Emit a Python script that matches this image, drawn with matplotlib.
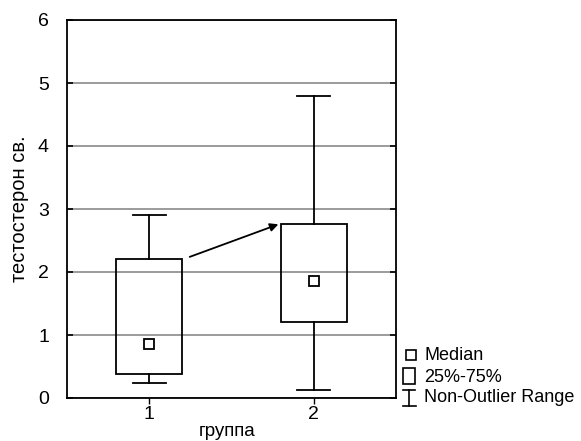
import numpy as np
import matplotlib
matplotlib.use('Agg')
import matplotlib.pyplot as plt
from matplotlib.patches import Rectangle
from matplotlib.lines import Line2D

plt.rcParams['font.family'] = ['Liberation Sans', 'DejaVu Sans']

# данные по группам
groups = [1, 2]
medians = [0.85, 1.86]
q25 = [0.385, 1.205]
q75 = [2.2, 2.757]
wlow = [0.24, 0.125]
whigh = [2.9, 4.8]
yticks = [0, 1, 2, 3, 4, 5, 6]

W, H = 581, 441
fig = plt.figure(figsize=(W / 100, H / 100), dpi=100)
ax = fig.add_axes([67 / W, 1 - 398 / H, 329 / W, 378 / H])

box_w = 0.4
cap_w = 0.2
for g, md, lo, hi, wl, wh in zip(groups, medians, q25, q75, wlow, whigh):
    ax.add_patch(Rectangle((g - box_w / 2, lo), box_w, hi - lo, fill=False,
                           ec='black', lw=1.3, zorder=3))
    ax.plot([g, g], [hi, wh], c='black', lw=1.3, zorder=3)
    ax.plot([g, g], [wl, lo], c='black', lw=1.3, zorder=3)
    ax.plot([g - cap_w / 2, g + cap_w / 2], [wh, wh], c='black', lw=1.3, zorder=3)
    ax.plot([g - cap_w / 2, g + cap_w / 2], [wl, wl], c='black', lw=1.3, zorder=3)
    ax.plot(g, md, marker='s', ms=7, mfc='white', mec='black', mew=1.3, zorder=4)

# стрелка от первой группы ко второй
ax.annotate('', xy=(1.785, q75[1]), xytext=(1.246, 2.24),
            arrowprops=dict(arrowstyle='-|>', color='black', lw=1.3,
                            mutation_scale=12, shrinkA=0, shrinkB=0))

ax.set_xlim(0.5, 2.5)
ax.set_ylim(0, 6)
ax.set_xticks(groups)
ax.set_yticks(yticks)
ax.grid(axis='y', color='#808080', lw=1.1, zorder=1)
ax.tick_params(axis='y', direction='in', length=4, width=1.2, right=True,
               labelsize=14, pad=13)
ax.tick_params(axis='x', direction='out', length=4, width=1, labelsize=14, pad=2)
for s in ax.spines.values():
    s.set_linewidth(1.3)
ax.set_ylabel('тестостерон св.', fontsize=14.5)
ax.yaxis.set_label_coords((19.5 - 67) / 329, 0.5)
ax.yaxis.label.set_va('center')
ax.set_xlabel('группа', fontsize=13.5)
ax.xaxis.set_label_coords((227.5 - 67) / 329, (398 - 432) / 378)
ax.xaxis.label.set_va('center')

# легенда справа снизу
def fx(x):
    return x / W

def fy(y):
    return 1 - y / H

fig.add_artist(Line2D([fx(411)], [fy(355)], marker='s', ms=6.5, mfc='white',
                      mec='black', mew=1.2, transform=fig.transFigure))
fig.add_artist(Rectangle((fx(403), fy(384)), 12 / W, 16 / H, fill=False, ec='black',
                         lw=1.2, transform=fig.transFigure))
fig.add_artist(Line2D([fx(409), fx(409)], [fy(389.5), fy(405.5)], c='black', lw=1.2,
                      transform=fig.transFigure))
fig.add_artist(Line2D([fx(403), fx(415)], [fy(389.5), fy(389.5)], c='black', lw=1.2,
                      transform=fig.transFigure))
fig.add_artist(Line2D([fx(403), fx(416)], [fy(405.5), fy(405.5)], c='black', lw=1.2,
                      transform=fig.transFigure))
for t, y in zip(['Median', '25%-75%', 'Non-Outlier Range'], [355, 377, 398]):
    fig.text(fx(424), fy(y), t, fontsize=13, va='center', ha='left')

fig.savefig('out.png', dpi=100)
